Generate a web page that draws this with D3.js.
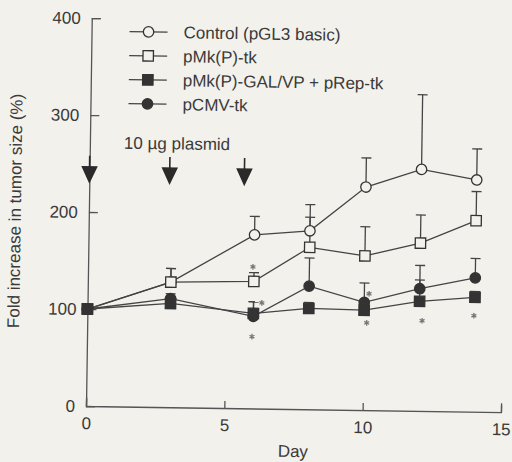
<!DOCTYPE html>
<html>
<head>
<meta charset="utf-8">
<style>
  body { margin: 0; background: #f2f1ec; }
  text { font-family: "Liberation Sans", Arial, sans-serif; fill: #3a3a3a; }
</style>
</head>
<body>
<script src="https://cdn.jsdelivr.net/npm/d3@7"></script>
<script>

// values
var days = [0, 3, 6, 8, 10, 12, 14];
var names = ["Control (pGL3 basic)", "pMk(P)-tk", "pMk(P)-GAL/VP + pRep-tk", "pCMV-tk"];

var control    = [100, 129, 179, 184, 230, 249, 239];
var controlTop = [100, 143, 198, 211, 260, 326, 271];
var pmk        = [100, 129, 131, 167, 159, 173, 197];
var pmkTop     = [100, 143, 140, 198, 189, 202, 227];
var pgal       = [100, 107,  98, 104, 103, 113, 118];
var pgalTop    = [100, 111, 110, 110, 110, 135, 124];
var pcmv       = [100, 112,  95, 127, 111, 126, 138];
var pcmvTop    = [100, 117, 110, 156, 131, 150, 158];

var xTicks = [0, 5, 10, 15];
var yTicks = [0, 100, 200, 300, 400];

var arrowDays = [0, 2.9, 5.6];
var starDays  = [5.96, 10.1, 12.1, 13.97, 5.96, 6.3, 10.17];
var starVals  = [74, 90, 93, 99, 146, 109, 120];

var m = {t: 18, l: 86};
var w = 415, h = 388;
var ink = "#333";
var bg = "#f2f1ec";

var x = d3.scaleLinear().domain([0, 15]).range([0, w]);
var y = d3.scaleLinear().domain([0, 400]).range([h, 0]);

var svg = d3.select("body").append("svg")
    .attr("width", 512).attr("height", 462);

// the scan is turned slightly clockwise
var g = svg.append("g")
    .attr("transform", "translate(" + m.l + "," + m.t + ") rotate(0.85,0," + h + ")");

// axes, ticks pointing inward
var yAxis = d3.axisLeft(y).tickValues(yTicks).tickSizeInner(-9).tickSizeOuter(-9).tickPadding(11);
var xAxis = d3.axisBottom(x).tickValues(xTicks).tickSizeInner(-7).tickSizeOuter(-9).tickPadding(11);

g.append("g").attr("transform", "translate(0," + h + ")").call(xAxis);
g.append("g").call(yAxis);
g.selectAll(".domain, .tick line").attr("stroke", "#555").attr("stroke-width", 1.3);
g.selectAll(".tick text").attr("font-size", 17).style("font-family", "Liberation Sans, Arial, sans-serif").attr("fill", "#3a3a3a");

g.append("text")
    .attr("transform", "translate(-74," + (h / 2) + ") rotate(-90)")
    .attr("text-anchor", "middle").attr("dy", "0.35em")
    .attr("font-size", 17)
    .text("Fold increase in tumor size (%)");

g.append("text")
    .attr("x", w / 2).attr("y", h + 48)
    .attr("text-anchor", "middle").attr("font-size", 17)
    .text("Day");

// plasmid injections
g.append("text")
    .attr("x", x(3.15)).attr("y", y(272)).attr("dy", "0.35em")
    .attr("text-anchor", "middle").attr("font-size", 17)
    .text("10 \u00b5g plasmid");

g.selectAll(".arrow").data(arrowDays).enter().append("path")
    .attr("class", "arrow")
    .attr("fill", "#2a2a2a").attr("stroke", "#2a2a2a").attr("stroke-width", 1.6)
    .attr("d", function(d) {
      var cx = x(d), y0 = y(258), y1 = y(231);
      return "M" + cx + "," + y0 + "V" + (y1 - 14) +
             "M" + (cx - 7) + "," + (y1 - 15) + "L" + (cx + 7) + "," + (y1 - 15) + "L" + cx + "," + y1 + "Z";
    });

var series = [
  {name: names[0], v: control, top: controlTop, shape: "circle", filled: false},
  {name: names[1], v: pmk, top: pmkTop, shape: "square", filled: false},
  {name: names[3], v: pcmv, top: pcmvTop, shape: "circle", filled: true},
  {name: names[2], v: pgal, top: pgalTop, shape: "square", filled: true}
];

var line = d3.line()
    .x(function(d, i) { return x(days[i]); })
    .y(function(d) { return y(d); });

series.forEach(function(s) {
  g.append("path").datum(s.v)
      .attr("fill", "none").attr("stroke", "#444").attr("stroke-width", 1.3)
      .attr("d", line);
});

// upper error bars
series.forEach(function(s) {
  var eb = g.append("g").attr("stroke", "#444").attr("stroke-width", 1.3);
  days.forEach(function(d, i) {
    if (s.top[i] <= s.v[i]) return;
    eb.append("line").attr("x1", x(d)).attr("x2", x(d)).attr("y1", y(s.v[i])).attr("y2", y(s.top[i]));
    eb.append("line").attr("x1", x(d) - 5).attr("x2", x(d) + 5).attr("y1", y(s.top[i])).attr("y2", y(s.top[i]));
  });
});

function marker(sel, s, cx, cy) {
  if (s.shape === "circle") {
    sel.append("circle").attr("cx", cx).attr("cy", cy).attr("r", 5.2)
        .attr("fill", s.filled ? ink : bg).attr("stroke", ink).attr("stroke-width", 1.3);
  } else {
    sel.append("rect").attr("x", cx - 5.2).attr("y", cy - 5.2).attr("width", 10.4).attr("height", 10.4)
        .attr("fill", s.filled ? ink : bg).attr("stroke", ink).attr("stroke-width", 1.3);
  }
}

series.forEach(function(s) {
  days.forEach(function(d, i) { marker(g, s, x(d), y(s.v[i])); });
});

// significance marks
g.selectAll(".star").data(starDays).enter().append("path")
    .attr("class", "star")
    .attr("transform", function(d, i) { return "translate(" + x(d) + "," + y(starVals[i]) + ")"; })
    .attr("d", d3.symbol().type(d3.symbolAsterisk).size(22))
    .attr("stroke", "#777").attr("stroke-width", 1.3).attr("fill", "none");

// legend
var legOrder = [series[0], series[1], series[3], series[2]];
var leg = g.append("g");
legOrder.forEach(function(s, i) {
  var ly = 13 + i * 24;
  leg.append("line").attr("x1", 38).attr("x2", 76).attr("y1", ly).attr("y2", ly)
      .attr("stroke", "#444").attr("stroke-width", 1.3);
  marker(leg, s, 57, ly);
  leg.append("text").attr("x", 92).attr("y", ly).attr("dy", "0.35em")
      .attr("font-size", 17).text(s.name);
});

</script>
</body>
</html>
